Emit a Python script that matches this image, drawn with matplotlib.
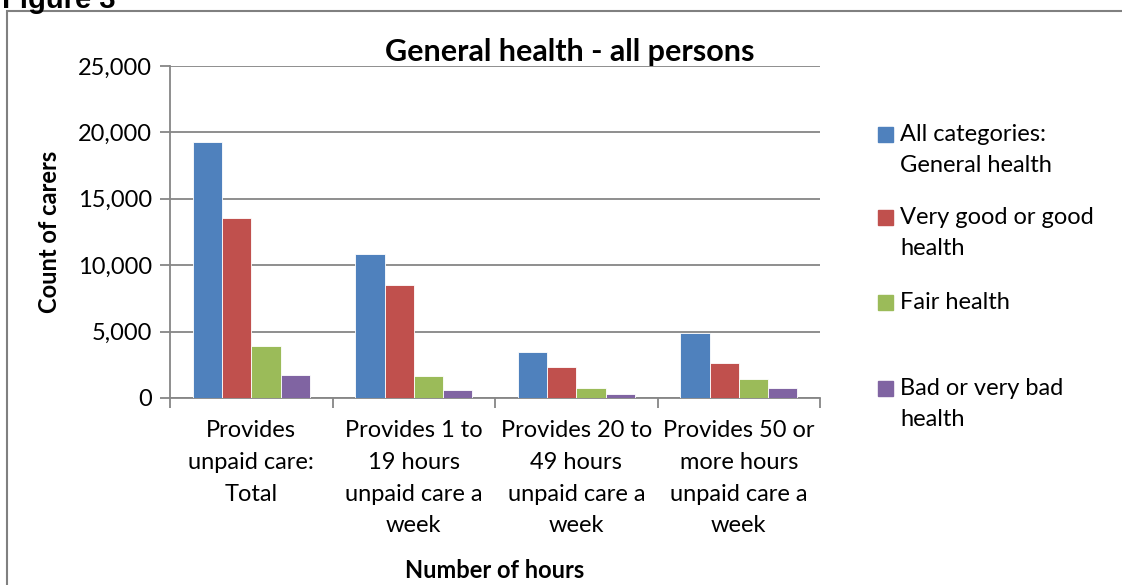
import matplotlib
matplotlib.use("Agg")
import matplotlib.pyplot as plt
from matplotlib.patches import Rectangle
import numpy as np

plt.rcParams['font.family'] = ['Lato', 'DejaVu Sans']

categories = ["Provides\nunpaid care:\nTotal",
              "Provides 1 to\n19 hours\nunpaid care a\nweek",
              "Provides 20 to\n49 hours\nunpaid care a\nweek",
              "Provides 50 or\nmore hours\nunpaid care a\nweek"]
series_names = ["All categories:\nGeneral health",
                "Very good or good\nhealth",
                "Fair health",
                "Bad or very bad\nhealth"]
all_categories = [19300, 10860, 3500, 4910]
very_good = [13550, 8490, 2340, 2650]
fair = [3930, 1660, 780, 1460]
bad = [1710, 630, 300, 730]
colors = ["#4F81BD", "#C0504D", "#9BBB59", "#8064A2"]
yticks = [0, 5000, 10000, 15000, 20000, 25000]

fig = plt.figure(figsize=(11.22, 5.85), dpi=100)
ax = fig.add_axes([170/1122, 1-398/585, 650/1122, 332/585])

x = np.arange(len(categories))
w = 0.18
values = [all_categories, very_good, fair, bad]
for i, vals in enumerate(values):
    ax.bar(x + (i - 1.5)*w, vals, w, color=colors[i], edgecolor="white",
           linewidth=0.6, zorder=3)

ax.set_xlim(-0.5, 3.5)
ax.set_ylim(0, 25000)
ax.set_yticks(yticks)
ax.set_yticklabels(["{:,}".format(v) for v in yticks], fontsize=17)
ax.yaxis.grid(True, color="#868686", linewidth=1.3, zorder=0)

ax.set_xticks(np.arange(-0.5, 4, 1))
ax.set_xticklabels([])
ax.set_xticks(x, minor=True)
ax.set_xticklabels(categories, minor=True, fontsize=17, linespacing=1.63)
ax.tick_params(axis="x", which="major", length=7, width=1.3, color="#868686")
ax.tick_params(axis="x", which="minor", length=0, pad=16)
ax.tick_params(axis="y", length=7, width=1.3, color="#868686", pad=6)

for s in ["top", "right"]:
    ax.spines[s].set_visible(False)
for s in ["left", "bottom"]:
    ax.spines[s].set_color("#868686")
    ax.spines[s].set_linewidth(1.3)

ax.set_ylabel("Count of carers", fontsize=17, fontweight="bold", labelpad=12)
ax.set_xlabel("Number of hours", fontsize=17, fontweight="bold", labelpad=16)
fig.text(570/1122, 1-52/585, "General health - all persons", fontsize=22,
         fontweight="bold", ha="center", va="center")

# legend
leg_y = [134, 217, 302, 388]
for i, name in enumerate(series_names):
    fig.add_artist(Rectangle((878/1122, 1-(leg_y[i]+8)/585), 15/1122, 15/585,
                             transform=fig.transFigure, color=colors[i]))
    fig.text(900/1122, 1-(leg_y[i]-10)/585, name, fontsize=17, va="top",
             linespacing=1.61)

# page frame and heading
fig.add_artist(Rectangle((7/1122, -0.01), 1.02, 1-11/585+0.01,
                         transform=fig.transFigure, fill=False,
                         edgecolor="#808080", linewidth=1.5))
fig.text(2/1122, 1.0, "Figure 3", fontsize=21, fontweight="bold",
         family=["Liberation Sans", "DejaVu Sans"], va="center", ha="left")

fig.savefig("out.png", dpi=100)
